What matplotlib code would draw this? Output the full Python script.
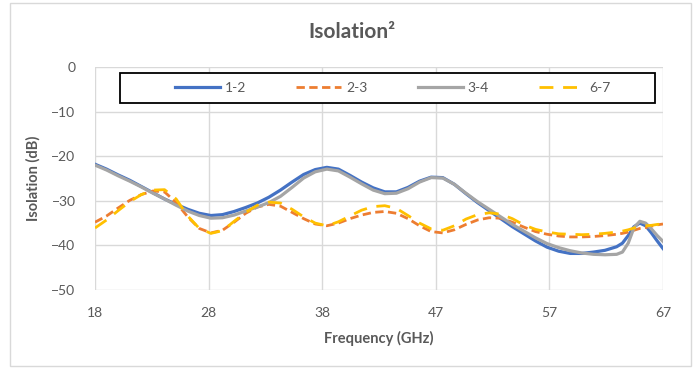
import numpy as np
import matplotlib
matplotlib.use('Agg')
import matplotlib.pyplot as plt
from matplotlib.patches import Rectangle
from matplotlib.lines import Line2D

plt.rcParams['font.family'] = ['Lato', 'DejaVu Sans']

''' values read off the reference '''

freq = [18, 19, 20, 21, 22, 23, 24, 25, 26, 27, 28, 29, 30, 31, 32, 33, 34, 35,
        36, 37, 38, 39, 40, 41, 42, 43, 44, 45, 46, 47, 48, 49, 50, 51, 52, 53,
        54, 55, 56, 57, 58, 59, 60, 61, 62, 63, 63.5, 64, 64.5, 65, 65.5, 66,
        66.5, 67]

iso_12 = [-21.8, -22.9, -24.2, -25.4, -26.8, -28.2, -29.6, -30.8, -31.9, -32.8,
          -33.3, -33.1, -32.4, -31.5, -30.5, -29.2, -27.6, -25.8, -24.1, -23.0,
          -22.5, -22.9, -24.3, -25.8, -27.1, -28.0, -28.0, -27.0, -25.6, -24.7,
          -24.8, -26.3, -28.4, -30.4, -32.2, -34.0, -35.8, -37.4, -39.0, -40.4,
          -41.3, -41.8, -41.8, -41.5, -41.1, -40.3, -39.5, -37.8, -35.8, -35.0,
          -35.6, -37.2, -39.0, -40.7]
iso_23 = [-34.8, -33.4, -31.6, -29.9, -28.6, -27.8, -28.0, -30.4, -33.6, -36.2,
          -37.2, -36.6, -34.8, -32.8, -31.4, -30.8, -31.2, -32.6, -34.0, -35.2,
          -35.6, -35.0, -34.0, -33.2, -32.6, -32.4, -32.8, -34.0, -35.6, -36.9,
          -37.2, -36.5, -35.3, -34.3, -33.8, -33.9, -34.8, -35.9, -36.9, -37.5,
          -37.9, -38.1, -38.1, -38.0, -37.8, -37.5, -37.3, -37.0, -36.6, -36.2,
          -36.0, -35.7, -35.4, -35.2]
iso_34 = [-22.0, -23.1, -24.4, -25.6, -26.9, -28.3, -29.6, -31.0, -32.3, -33.3,
          -33.9, -33.8, -33.2, -32.3, -31.4, -30.4, -29.0, -27.0, -24.9, -23.5,
          -22.9, -23.3, -24.7, -26.2, -27.6, -28.4, -28.3, -27.3, -25.8, -24.8,
          -24.9, -26.3, -28.3, -30.2, -31.9, -33.6, -35.3, -36.8, -38.3, -39.6,
          -40.5, -41.2, -41.7, -42.0, -42.1, -42.0, -41.5, -39.5, -36.0, -34.6,
          -35.0, -36.3, -37.8, -39.1]
iso_67 = [-36.1, -34.3, -32.2, -30.2, -28.6, -27.6, -27.5, -29.6, -33.4, -36.2,
          -37.3, -36.7, -34.6, -32.6, -31.0, -30.3, -30.5, -31.9, -33.6, -35.0,
          -35.6, -34.7, -33.4, -32.1, -31.3, -31.1, -31.7, -33.3, -35.0, -36.3,
          -36.6, -35.6, -34.1, -33.1, -32.7, -33.0, -34.0, -35.4, -36.4, -37.0,
          -37.4, -37.5, -37.6, -37.5, -37.3, -37.0, -36.8, -36.5, -36.1, -35.8,
          -35.6, -35.5, -35.3, -35.2]

labels = ['1-2', '2-3', '3-4', '6-7']
xtick_labels = ['18', '28', '38', '47', '57', '67']

txt = '#595959'
grid = '#d9d9d9'

fig = plt.figure( figsize=(6.96, 3.69), dpi=100 )
ax = fig.add_axes( [95/696, 79/369, 568/696, 223/369] )

ax.plot( freq, iso_12, color='#4472C4', lw=2.3, label=labels[0], zorder=3 )
ax.plot( freq, iso_23, color='#ED7D31', lw=2.0, ls=(0, (3, 1.6)), label=labels[1], zorder=3 )
ax.plot( freq, iso_34, color='#A5A5A5', lw=2.3, label=labels[2], zorder=3 )
ax.plot( freq, iso_67, color='#FFC000', lw=2.0, ls=(0, (5, 3.5)), label=labels[3], zorder=4 )

ax.set_xlim( 18, 67 )
ax.set_ylim( -50, 0 )
ax.set_xticks( np.linspace(18, 67, 6) )
ax.set_xticklabels( xtick_labels )
ax.set_yticks( np.arange(-50, 1, 10) )
ax.grid( True, color=grid, lw=1 )
ax.set_axisbelow( True )
for s in ax.spines.values():
    s.set_visible( False )
ax.tick_params( length=0, labelsize=10, labelcolor=txt )
ax.tick_params( axis='x', pad=12 )
ax.tick_params( axis='y', pad=14 )

ax.set_xlabel( 'Frequency (GHz)', fontsize=10.5, fontweight='bold', color=txt, labelpad=9 )
ax.set_ylabel( 'Isolation (dB)', fontsize=10.5, fontweight='bold', color=txt, labelpad=8 )

fig.text( 352/696, 1 - 32/369, 'Isolation\u00b2', ha='center', va='center',
          fontsize=15, fontweight='bold', color=txt )

''' legend box '''

bx0 = 25/568
by0 = (290 - 103)/223
ax.add_patch( Rectangle( (bx0, by0), 535/568, 30/223, transform=ax.transAxes,
                         facecolor='white', edgecolor='black', lw=1.3, zorder=5 ) )
handles = [ Line2D([], [], color=l.get_color(), lw=l.get_linewidth(), ls=l.get_linestyle())
            for l in ax.get_lines() ]
handles[1].set_linestyle( (0, (3, 1.6)) )
handles[3].set_linestyle( (0, (5, 3.5)) )
leg = ax.legend( handles, labels, ncol=4, loc='center', frameon=False,
                 bbox_to_anchor=(bx0 + 535/568/2 + 5/568, by0 + 15/223), bbox_transform=ax.transAxes,
                 fontsize=10, handlelength=3.25, handletextpad=0.36, columnspacing=3.6 )
for t in leg.get_texts():
    t.set_color( txt )
leg.set_zorder( 6 )

fig.add_artist( Rectangle( (10/696, 3/369), 681/696, 363/369, transform=fig.transFigure,
                           facecolor='none', edgecolor=grid, lw=1 ) )

plt.savefig( 'out.png', dpi=100 )
